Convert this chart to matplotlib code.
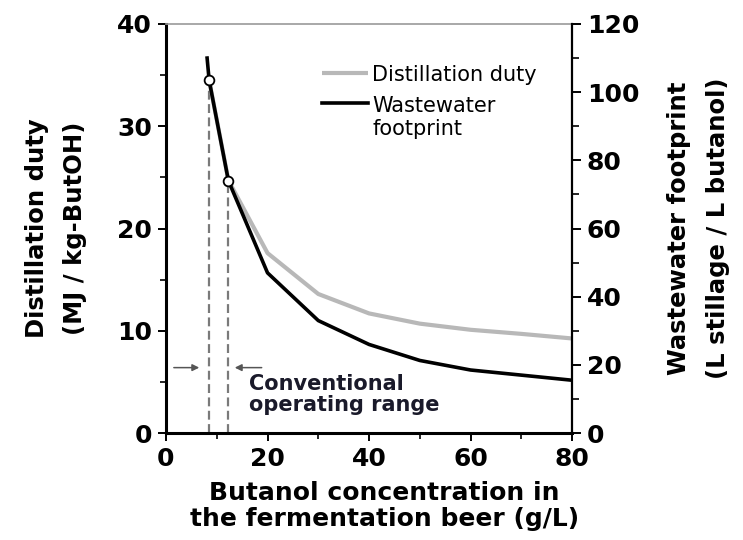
import matplotlib.pyplot as plt
from matplotlib.ticker import MultipleLocator

# Butanol concentration (g/L) and the two responses
conc_duty = [8.5, 12.3, 20, 30, 40, 50, 60, 70, 80]
distillation_duty = [34.5, 24.7, 17.6, 13.6, 11.7, 10.7, 10.1, 9.7, 9.25]

conc_water = [8.1, 8.5, 12.3, 20, 30, 40, 50, 60, 70, 80]
wastewater_footprint = [110, 103.5, 74, 47, 33, 26, 21.3, 18.5, 17, 15.5]

# bounds of the conventional operating range (indices into conc_duty)
range_idx = [0, 1]

BOLD = dict(family="DejaVu Sans", weight="bold")


def main():
    fig = plt.figure(figsize=(7.43, 5.40), dpi=100)
    ax = fig.add_axes([0.2234, 0.198, 0.5466, 0.7576])
    ax2 = ax.twinx()

    ax.plot(conc_duty, distillation_duty, color="#b8b8b8", lw=3.0,
            solid_capstyle="butt", zorder=2, label="Distillation duty")
    ax2.plot(conc_water, wastewater_footprint, color="black", lw=2.6,
             zorder=3, label="Wastewater\nfootprint")

    # dashed drop lines and open markers at the range bounds
    rx = [conc_duty[i] for i in range_idx]
    ry = [distillation_duty[i] for i in range_idx]
    ax.vlines(rx, 0, ry, colors="#7a7a7a", linestyles=(0, (4, 2)), lw=1.6,
              zorder=1)
    ax2.plot([conc_water[i + 1] for i in range_idx],
             [wastewater_footprint[i + 1] for i in range_idx],
             "o", ms=7, mfc="white", mec="black", mew=1.3, zorder=5)

    # range arrows and label
    ax.annotate("", xy=(rx[0] - 1.4, 6.4), xytext=(1.0, 6.4),
                arrowprops=dict(arrowstyle="-|>", color="#555555", lw=1.1,
                                mutation_scale=10))
    ax.annotate("", xy=(rx[1] + 0.7, 6.4), xytext=(19.4, 6.4),
                arrowprops=dict(arrowstyle="-|>", color="#555555", lw=1.1,
                                mutation_scale=10))
    ax.text(16.3, 5.8, "Conventional\noperating range", ha="left", va="top",
            fontsize=15, linespacing=1.05, color="#1a1a2a", **BOLD)

    ax.set_xlim(0, 80)
    ax.set_ylim(0, 40)
    ax2.set_ylim(0, 120)

    ax.xaxis.set_major_locator(MultipleLocator(20))
    ax.xaxis.set_minor_locator(MultipleLocator(10))
    ax.yaxis.set_major_locator(MultipleLocator(10))
    ax.yaxis.set_minor_locator(MultipleLocator(5))
    ax2.yaxis.set_major_locator(MultipleLocator(20))
    ax2.yaxis.set_minor_locator(MultipleLocator(10))

    ax.tick_params(axis="both", which="major", direction="out", length=6,
                   width=1.4, pad=4, labelsize=18)
    ax.tick_params(axis="both", which="minor", direction="out", length=4.5,
                   width=1.2)
    ax2.tick_params(axis="y", which="major", direction="out", length=6.5,
                    width=1.4, pad=4, labelsize=18)
    ax2.tick_params(axis="y", which="minor", direction="out", length=5,
                    width=1.2)
    for lab in ax.get_xticklabels() + ax.get_yticklabels() + ax2.get_yticklabels():
        lab.set_fontfamily("DejaVu Sans")
        lab.set_fontweight("bold")

    for side in ["left", "bottom"]:
        ax.spines[side].set_linewidth(2.2)
    ax.spines["top"].set_color("#9a9a9a")
    ax.spines["top"].set_linewidth(1.2)
    ax.spines["right"].set_visible(False)
    for side in ["left", "bottom", "top"]:
        ax2.spines[side].set_visible(False)
    ax2.spines["right"].set_linewidth(1.6)

    ax.set_xlabel("Butanol concentration in\nthe fermentation beer (g/L)",
                  fontsize=18, linespacing=1.1, **BOLD)
    ax.xaxis.set_label_coords(0.537, -0.118)
    ax.set_ylabel("Distillation duty\n(MJ / kg-ButOH)", fontsize=17.5,
                  linespacing=1.7, labelpad=22, **BOLD)
    ax2.set_ylabel("Wastewater footprint\n(L stillage / L butanol)",
                   fontsize=17.5, linespacing=1.8, labelpad=20, **BOLD)

    handles = ax.get_legend_handles_labels()[0] + ax2.get_legend_handles_labels()[0]
    labels = ["Distillation duty", "Wastewater\nfootprint"]
    leg = ax.legend(handles, labels, loc="upper left",
                    bbox_to_anchor=(0.338, 0.945), frameon=False,
                    handlelength=2.2, handletextpad=0.2, labelspacing=0.5,
                    prop=dict(family="DejaVu Sans", size=15))
    # line each key up with the first line of its label
    for column in leg._legend_handle_box.get_children():
        for row in column.get_children():
            row.align = "top"
    leg.set_zorder(6)

    fig.savefig("out.png", dpi=100)
    plt.close(fig)


if __name__ == "__main__":
    main()
